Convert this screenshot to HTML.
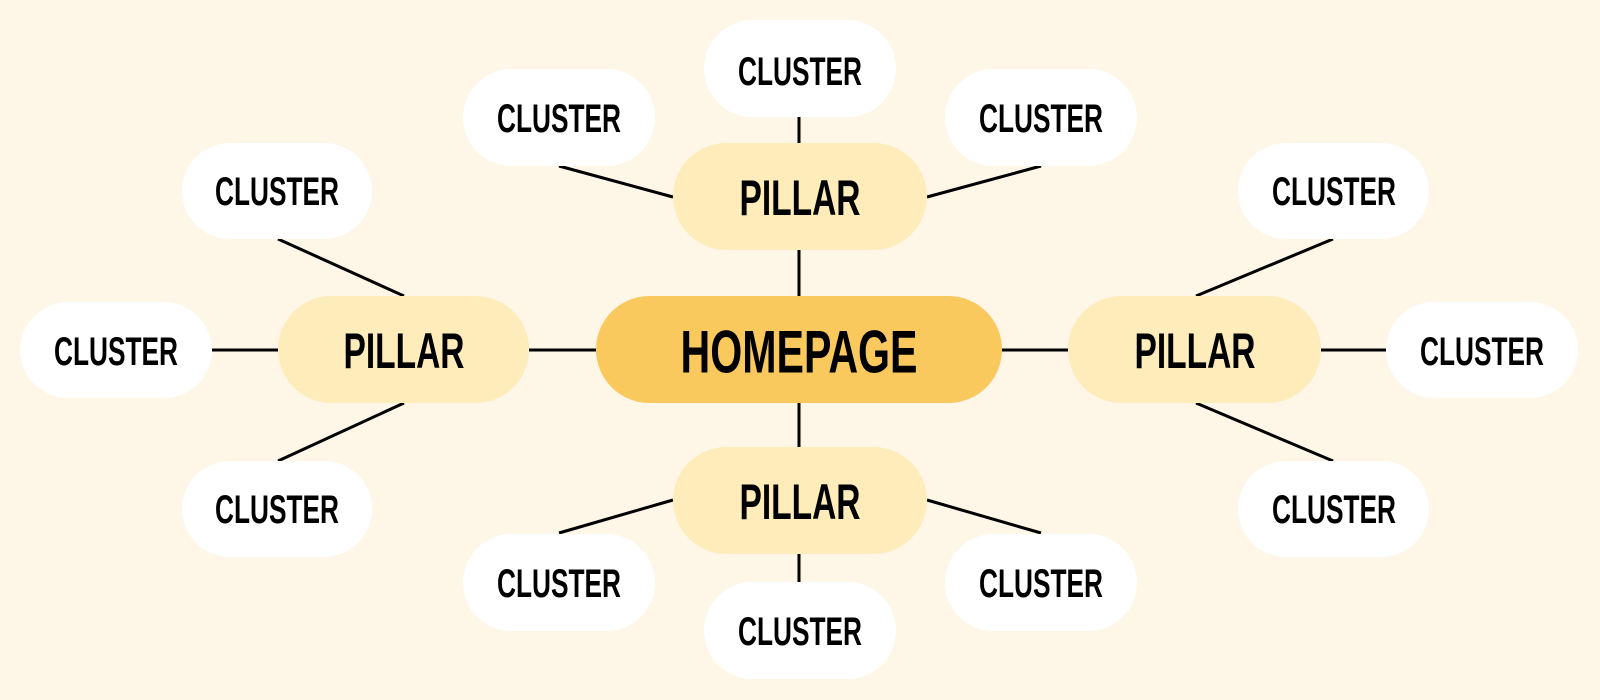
<!DOCTYPE html>
<html><head><meta charset="utf-8"><style>
html,body{margin:0;padding:0;background:#fef6e7;}
svg{display:block}
text{font-family:"Liberation Sans Narrow","Liberation Sans",sans-serif;font-weight:bold;fill:#000;text-anchor:middle;dominant-baseline:central}
</style></head><body>
<svg width="1600" height="700" viewBox="0 0 1600 700">
<rect width="1600" height="700" fill="#fef6e7"/>
<g stroke="#000" stroke-width="3">
<line x1="799" y1="117" x2="799" y2="143"/>
<line x1="799" y1="250" x2="799" y2="296"/>
<line x1="799" y1="403" x2="799" y2="447"/>
<line x1="799" y1="554" x2="799" y2="582"/>
<line x1="529" y1="350" x2="596" y2="350"/>
<line x1="212" y1="350" x2="278" y2="350"/>
<line x1="1002" y1="350" x2="1068" y2="350"/>
<line x1="1321" y1="350" x2="1386" y2="350"/>
<line x1="559" y1="166" x2="673" y2="197"/>
<line x1="927" y1="197" x2="1041" y2="166"/>
<line x1="673" y1="500" x2="559" y2="533"/>
<line x1="927" y1="500" x2="1041" y2="533"/>
<line x1="278" y1="239" x2="404" y2="296"/>
<line x1="404" y1="403" x2="278" y2="461"/>
<line x1="1196" y1="296" x2="1333" y2="239"/>
<line x1="1196" y1="403" x2="1333" y2="461"/>
</g>
<rect x="596" y="296" width="406" height="107" rx="53.5" fill="#fac95e"/>
<text x="799" y="352" font-size="60" textLength="237" lengthAdjust="spacingAndGlyphs">HOMEPAGE</text>
<g fill="#feecbb">
<rect x="673" y="143" width="254" height="107" rx="53.5"/>
<rect x="278" y="296" width="251" height="107" rx="53.5"/>
<rect x="1068" y="296" width="253" height="107" rx="53.5"/>
<rect x="673" y="447" width="254" height="107" rx="53.5"/>
</g>
<g font-size="50">
<text x="800" y="198" textLength="121" lengthAdjust="spacingAndGlyphs">PILLAR</text>
<text x="404" y="351" textLength="121" lengthAdjust="spacingAndGlyphs">PILLAR</text>
<text x="1195" y="351" textLength="121" lengthAdjust="spacingAndGlyphs">PILLAR</text>
<text x="800" y="502" textLength="121" lengthAdjust="spacingAndGlyphs">PILLAR</text>
</g>
<g fill="#fff">
<rect x="704" y="20" width="192" height="97" rx="48.5"/>
<rect x="463" y="69" width="192" height="97" rx="48.5"/>
<rect x="945" y="69" width="192" height="97" rx="48.5"/>
<rect x="182" y="143" width="190" height="96" rx="48"/>
<rect x="20" y="302" width="192" height="96" rx="48"/>
<rect x="182" y="461" width="190" height="96" rx="48"/>
<rect x="1238" y="143" width="191" height="96" rx="48"/>
<rect x="1386" y="302" width="192" height="96" rx="48"/>
<rect x="1238" y="461" width="191" height="96" rx="48"/>
<rect x="463" y="534" width="192" height="97" rx="48.5"/>
<rect x="945" y="534" width="192" height="97" rx="48.5"/>
<rect x="704" y="582" width="192" height="97" rx="48.5"/>
</g>
<g font-size="40">
<text x="800" y="72" textLength="124" lengthAdjust="spacingAndGlyphs">CLUSTER</text>
<text x="559" y="119" textLength="124" lengthAdjust="spacingAndGlyphs">CLUSTER</text>
<text x="1041" y="119" textLength="124" lengthAdjust="spacingAndGlyphs">CLUSTER</text>
<text x="277" y="192" textLength="124" lengthAdjust="spacingAndGlyphs">CLUSTER</text>
<text x="116" y="352" textLength="124" lengthAdjust="spacingAndGlyphs">CLUSTER</text>
<text x="277" y="510" textLength="124" lengthAdjust="spacingAndGlyphs">CLUSTER</text>
<text x="1334" y="192" textLength="124" lengthAdjust="spacingAndGlyphs">CLUSTER</text>
<text x="1482" y="352" textLength="124" lengthAdjust="spacingAndGlyphs">CLUSTER</text>
<text x="1334" y="510" textLength="124" lengthAdjust="spacingAndGlyphs">CLUSTER</text>
<text x="559" y="584" textLength="124" lengthAdjust="spacingAndGlyphs">CLUSTER</text>
<text x="1041" y="584" textLength="124" lengthAdjust="spacingAndGlyphs">CLUSTER</text>
<text x="800" y="632" textLength="124" lengthAdjust="spacingAndGlyphs">CLUSTER</text>
</g>
</svg>
</body></html>
